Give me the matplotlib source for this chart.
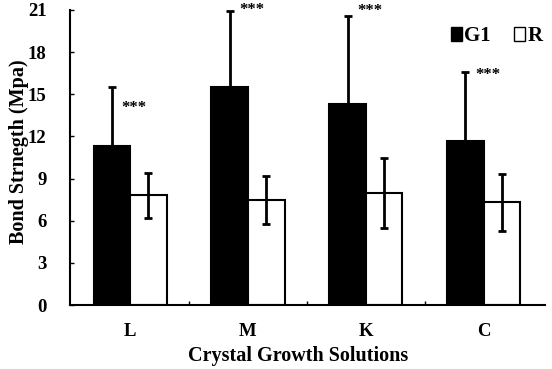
import numpy as np
import matplotlib
matplotlib.use("Agg")
import matplotlib.pyplot as plt
from matplotlib.patches import Patch

plt.rcParams['font.family'] = 'Liberation Serif'
plt.rcParams['font.weight'] = 'bold'

solutions = ["L", "M", "K", "C"]
g1_mean = [11.35, 15.5, 14.3, 11.7]
g1_sd = [4.2, 5.4, 6.3, 4.9]
r_mean = [7.8, 7.5, 8.0, 7.3]
r_sd = [1.6, 1.7, 2.5, 2.0]
star_y = [14.0, 21.0, 20.9, 16.4]

x = np.arange(len(solutions))
w = 0.31

fig = plt.figure(figsize=(5.52, 3.69), dpi=100)
ax = fig.add_axes([70 / 552, 1 - 305 / 369, 475 / 552, 295 / 369])

err_kw = dict(ecolor="black", elinewidth=2.0, capsize=3.2, capthick=2.0)
ax.bar(x - w / 2, g1_mean, w, yerr=g1_sd, color="black", edgecolor="black",
       linewidth=1.5, error_kw=err_kw, label="G1")
ax.bar(x + w / 2, r_mean, w, yerr=r_sd, color="white", edgecolor="black",
       linewidth=1.5, error_kw=err_kw, label="R")

# significance marks next to the G1 error caps
for xi, yi in zip(x, star_y):
    ax.text(xi - w / 2 + 0.08, yi, "***", fontsize=12, ha="left", va="center")

ax.set_xlim(-0.51, 3.52)
ax.set_ylim(0, 21.0)
ax.set_yticks(np.arange(0, 22, 3))
ax.set_xticks(x)
ax.set_xticklabels(solutions, fontsize=13.5, fontweight="bold")
ax.set_xticks(x[:-1] + 0.5, minor=True)
ax.tick_params(axis="x", which="major", length=0, pad=13)
ax.tick_params(axis="x", which="minor", direction="in", length=3, width=1)
ax.tick_params(axis="y", direction="in", length=3, width=1, labelsize=13.5, pad=17)
for lab in ax.get_yticklabels():
    lab.set_fontweight("bold")

for s in ["top", "right"]:
    ax.spines[s].set_visible(False)
for s in ["left", "bottom"]:
    ax.spines[s].set_linewidth(1.5)

ax.set_xlabel("Crystal Growth Solutions", fontsize=14.5, fontweight="bold")
ax.xaxis.set_label_coords(0.481, -0.14)
ax.set_ylabel("Bond Strnegth (Mpa)", fontsize=14.5, fontweight="bold")
ax.yaxis.set_label_coords(-0.086, 0.52)

handles = [Patch(facecolor="black", edgecolor="black"),
           Patch(facecolor="white", edgecolor="black")]
ax.legend(handles, ["G1", "R"], loc="upper right", bbox_to_anchor=(1.025, 0.995),
          ncol=2, frameon=False, fontsize=15, handlelength=0.55, handleheight=0.65,
          handletextpad=0.1, columnspacing=1.1, borderpad=0.2)

fig.savefig("out.png", dpi=100)
